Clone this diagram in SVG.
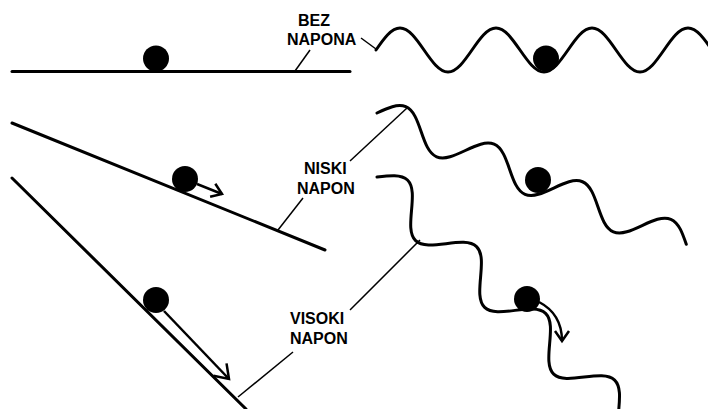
<svg xmlns="http://www.w3.org/2000/svg" width="708" height="409" viewBox="0 0 708 409">
<style>
.ln{fill:none;stroke:#000;stroke-width:3;stroke-linecap:round}
.wv{fill:none;stroke:#000;stroke-width:3;stroke-linecap:round}
.ld{fill:none;stroke:#000;stroke-width:1.5}
.ar{fill:none;stroke:#000;stroke-width:2.5}
.ball{fill:#000}
.lb{font-family:"Liberation Sans",Arial,sans-serif;font-weight:bold;font-size:16px;fill:#000}
</style>
<defs>
<marker id="chevS" markerUnits="userSpaceOnUse" orient="auto" markerWidth="20" markerHeight="20" viewBox="-15 -10 20 20" refX="0" refY="0" overflow="visible">
<path d="M-10,-7 L0,0 L-10,7" fill="none" stroke="#000" stroke-width="2.5" stroke-linejoin="miter"/>
</marker>
<marker id="chevL" markerUnits="userSpaceOnUse" orient="auto" markerWidth="24" markerHeight="24" viewBox="-18 -12 24 24" refX="0" refY="0" overflow="visible">
<path d="M-13,-9 L0,0 L-13,9" fill="none" stroke="#000" stroke-width="2.5" stroke-linejoin="miter"/>
</marker>
</defs>
<rect width="708" height="409" fill="#fff"/>

<g id="bez-napona">
<line class="ln" x1="12" y1="71.5" x2="350" y2="71.5"/>
<circle class="ball" cx="156" cy="58.5" r="13"/>
<path class="wv" d="M376,50 c7.83,-11.27 15.32,-22 24,-22 s16.17,10.73 24,22 s15.32,22 24,22 s16.17,-10.73 24,-22 s15.32,-22 24,-22 s16.17,10.73 24,22 s15.32,22 24,22 s16.17,-10.73 24,-22 s15.32,-22 24,-22 s16.17,10.73 24,22 s15.32,22 24,22 s16.17,-10.73 24,-22 s15.32,-22 24,-22 s16.17,10.73 24,22"/>
<circle class="ball" cx="546" cy="58.5" r="13"/>
</g>

<g id="niski-napon">
<line class="ln" x1="12" y1="123" x2="325" y2="250"/>
<circle class="ball" cx="185" cy="179" r="13"/>
<line class="ar" x1="197" y1="184" x2="222" y2="194" marker-end="url(#chevS)"/>
<path class="wv" transform="translate(377,113) rotate(23)" d="M0,0 c7.83,-8.71 15.32,-17 24,-17 s16.17,8.29 24,17 s15.32,17 24,17 s16.17,-8.29 24,-17 s15.32,-17 24,-17 s16.17,8.29 24,17 s15.32,17 24,17 s16.17,-8.29 24,-17 s15.32,-17 24,-17 s16.17,8.29 24,17 s15.32,17 24,17 s16.17,-8.29 24,-17 s15.32,-17 24,-17 s16.17,8.29 24,17"/>
<circle class="ball" cx="538" cy="180" r="13"/>
</g>

<g id="visoki-napon">
<line class="ln" x1="12" y1="178" x2="246" y2="409"/>
<circle class="ball" cx="156" cy="300" r="13"/>
<line class="ar" x1="164" y1="311" x2="229" y2="379" marker-end="url(#chevL)"/>
<path class="wv" transform="translate(377,177) rotate(44)" d="M0,0 c7.83,-9.73 15.32,-19 24,-19 s16.17,9.27 24,19 s15.32,19 24,19 s16.17,-9.27 24,-19 s15.32,-19 24,-19 s16.17,9.27 24,19 s15.32,19 24,19 s16.17,-9.27 24,-19 s15.32,-19 24,-19 s16.17,9.27 24,19 s15.32,19 24,19 s16.17,-9.27 24,-19 s15.32,-19 24,-19 s16.17,9.27 24,19 s15.32,19 24,19 s16.17,-9.27 24,-19"/>
<circle class="ball" cx="527" cy="299" r="13"/>
<path class="ar" d="M539,302 Q562,314 562,341" marker-end="url(#chevS)"/>
</g>

<g id="leaders">
<line class="ld" x1="295" y1="71" x2="310" y2="50"/>
<line class="ld" x1="361" y1="38" x2="376" y2="49"/>
<line class="ld" x1="278" y1="230" x2="303" y2="198"/>
<line class="ld" x1="350" y1="161" x2="407" y2="108"/>
<line class="ld" x1="238" y1="397" x2="293" y2="352"/>
<line class="ld" x1="350" y1="310" x2="420" y2="240"/>
</g>

<g id="labels">
<text class="lb" x="298" y="25.5">BEZ</text>
<text class="lb" x="287" y="45">NAPONA</text>
<text class="lb" x="304" y="174">NISKI</text>
<text class="lb" x="297" y="194">NAPON</text>
<text class="lb" x="290" y="324">VISOKI</text>
<text class="lb" x="290" y="344">NAPON</text>
</g>
</svg>
